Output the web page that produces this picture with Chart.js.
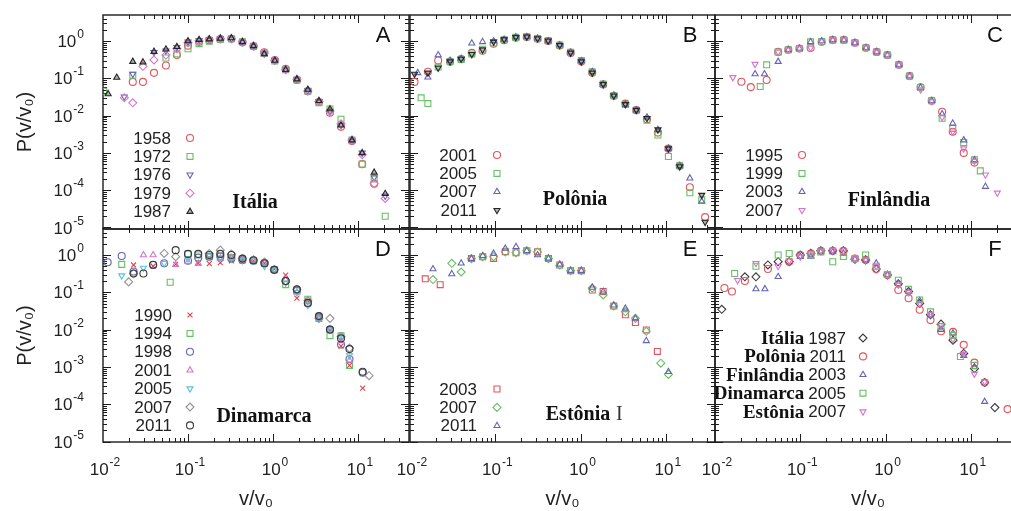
<!DOCTYPE html>
<html>
<head>
<meta charset="utf-8">
<script src="https://cdn.jsdelivr.net/npm/chart.js@4/dist/chart.umd.min.js"></script>
<style>
  html, body { margin: 0; padding: 0; background: #fff; overflow: hidden; }
  body { width: 1011px; height: 511px; position: relative; }
  canvas { position: absolute; }
</style>
</head>
<body>
<script>
// ---- data: v/v0 grids and P(v/v0) per year ----
const xTicks = [0.01, 0.1, 1, 10];
const yTicks = [1e-5, 1e-4, 1e-3, 1e-2, 1e-1, 1];

// A - Itália
const vA = [0.0102, 0.0115, 0.0145, 0.0178, 0.0224, 0.0295, 0.0398, 0.055, 0.074, 0.1, 0.135, 0.178, 0.24, 0.324, 0.437, 0.59, 0.79, 1.05, 1.41, 1.91, 2.57, 3.47, 4.68, 6.31, 8.5, 11.2, 15.5, 20.9];
const A1958 = [null, null, null, null, 0.08, 0.08, 0.14, 0.22, 0.42, 0.75, 0.95, 1.05, 1.12, 1.15, 0.92, 0.72, 0.5, 0.31, 0.18, 0.09, 0.045, 0.023, 0.012, 0.005, 0.0021, 0.0005, 0.00015, null];
const A1972 = [0.045, null, null, null, 0.12, null, null, 0.35, 0.45, 0.62, 0.85, 0.98, 1.1, 1.15, 0.95, 0.72, 0.47, 0.29, 0.17, 0.09, 0.045, 0.022, 0.015, 0.008, 0.0022, 0.0005, 0.0002, 0.00002];
const A1976 = [null, null, null, 0.032, 0.13, null, 0.5, 0.55, 0.68, 0.95, 1.05, 1.1, 1.15, 1.15, 0.93, 0.73, 0.46, 0.3, 0.17, 0.092, 0.047, 0.024, 0.013, 0.0055, 0.0021, 0.001, 0.00022, 0.00007];
const A1979 = [null, null, null, 0.03, 0.022, 0.21, 0.31, 0.42, 0.62, 0.9, 1.0, 1.1, 1.15, 1.15, 0.94, 0.73, 0.47, 0.3, 0.17, 0.094, 0.046, 0.024, 0.013, 0.006, 0.0022, 0.0009, 0.00015, 0.00006];
const A1987 = [null, 0.038, 0.105, null, 0.28, 0.27, 0.52, 0.6, 0.7, 1.0, 1.08, 1.12, 1.17, 1.2, 0.95, 0.74, 0.45, 0.3, 0.17, 0.095, 0.05, 0.025, 0.015, 0.0055, 0.0022, 0.001, 0.0003, 0.00008];

// B - Polônia
const vB = [0.0113, 0.0123, 0.0135, 0.0162, 0.0214, 0.0295, 0.0398, 0.053, 0.0708, 0.0955, 0.127, 0.174, 0.234, 0.313, 0.417, 0.569, 0.764, 1.02, 1.37, 1.84, 2.45, 3.35, 4.5, 6.0, 8.07, 10.7, 14.5, 19.1, 26.3, 28.8];
const B2001 = [0.08, null, null, 0.15, 0.3, 0.28, 0.33, 0.48, 0.55, 0.85, 1.05, 1.22, 1.28, 1.15, 1.0, 0.76, 0.48, 0.28, 0.14, 0.068, 0.034, 0.021, 0.014, 0.008, 0.0035, 0.0013, 0.00045, 0.00012, null, 0.000019];
const B2005 = [null, null, 0.03, 0.021, 0.2, 0.28, 0.32, 0.45, 0.6, 0.9, 1.08, 1.25, 1.3, 1.17, 1.02, 0.78, 0.5, 0.3, 0.15, 0.07, 0.034, 0.02, 0.014, 0.0075, 0.003, 0.0008, 0.00045, 0.000085, 0.000055, null];
const B2007 = [null, 0.14, null, 0.107, 0.42, 0.3, 0.34, 0.87, 0.95, 1.0, 1.1, 1.27, 1.3, 1.17, 1.0, 0.78, 0.5, 0.29, 0.15, 0.07, 0.035, 0.02, 0.014, 0.009, 0.0042, 0.0013, 0.00045, 0.00021, 0.00005, null];
const B2011 = [0.13, null, null, 0.14, 0.19, 0.28, 0.33, 0.44, 0.58, 0.95, 1.1, 1.26, 1.3, 1.17, 1.02, 0.77, 0.48, 0.28, 0.14, 0.069, 0.034, 0.02, 0.014, 0.0085, 0.0042, 0.0013, 0.00043, null, 0.000074, 0.000014];

// C - Finlândia
const vC = [0.0162, 0.0204, 0.0263, 0.0295, 0.0339, 0.038, 0.0403, 0.055, 0.0724, 0.0977, 0.132, 0.178, 0.24, 0.324, 0.437, 0.589, 0.785, 1.05, 1.43, 1.91, 2.57, 3.47, 4.6, 6.12, 8.24, 11.0, 12.9, 14.8, 20.4];
const C1995 = [null, 0.081, 0.058, null, null, null, 0.09, 0.51, 0.58, 0.63, 0.65, 0.95, 1.07, 1.07, 0.9, 0.66, 0.51, 0.42, 0.23, 0.115, 0.057, 0.025, 0.0127, 0.0037, 0.001, 0.00055, null, null, null];
const C1999 = [null, null, null, null, 0.06, null, 0.23, 0.51, 0.58, 0.63, 0.95, 0.97, 1.07, 1.07, 0.9, 0.66, 0.51, 0.42, 0.23, 0.115, 0.057, 0.025, 0.0085, 0.0045, 0.0019, 0.00065, 0.00033, null, null];
const C2003 = [null, null, null, 0.13, null, 0.13, null, 0.28, 0.58, 0.63, 0.95, 1.0, 1.07, 1.07, 0.9, 0.66, 0.51, 0.42, 0.23, 0.115, 0.057, 0.025, 0.011, 0.0062, 0.0022, 0.00065, null, 0.000125, null];
const C2007 = [0.106, null, null, 0.24, null, null, null, 0.51, 0.58, 0.63, 0.65, 0.97, 1.07, 1.07, 0.9, 0.66, 0.51, 0.42, 0.23, 0.115, 0.05, 0.024, 0.009, 0.0037, 0.0013, 0.0006, null, 0.00026, 0.000085];

// D - Dinamarca
const vD = [0.01135, 0.0166, 0.02, 0.0229, 0.0299, 0.0389, 0.0525, 0.0617, 0.0716, 0.1, 0.132, 0.178, 0.24, 0.324, 0.437, 0.589, 0.794, 1.035, 1.41, 1.91, 2.57, 3.47, 4.68, 6.31, 7.94, 11.35, 13.5];
const D1990 = [null, null, null, 0.54, null, 0.5, null, null, 0.56, null, 0.6, 0.59, 0.62, 0.7, 0.74, 0.7, 0.6, 0.42, 0.29, 0.07, 0.06, 0.023, 0.0095, 0.0036, 0.0011, 0.00027, null];
const D1994 = [null, 0.56, null, null, null, null, null, 0.186, null, 1.07, 1.0, 0.9, 0.91, 0.85, 0.74, 0.7, 0.6, 0.4, 0.16, 0.11, 0.065, 0.02, 0.0069, 0.0068, 0.0011, null, null];
const D1998 = [0.64, 0.94, null, 0.36, null, 0.54, 0.6, null, null, 0.7, 0.85, 0.9, 0.92, 0.8, 0.74, 0.7, 0.6, 0.4, 0.2, 0.11, 0.05, 0.022, 0.01, 0.004, 0.0016, 0.0007, null];
const D2001 = [null, null, null, null, 1.0, 1.0, null, null, 0.55, 0.66, 0.59, null, 0.8, 0.85, 0.74, 0.7, 0.6, 0.4, 0.22, 0.1, 0.055, 0.022, 0.01, 0.005, 0.0015, null, null];
const D2005 = [null, 0.28, null, null, 0.45, null, 0.6, null, null, 0.8, null, 0.95, 0.85, 0.85, 0.72, 0.7, 0.5, 0.4, 0.18, 0.1, 0.045, 0.02, 0.01, 0.006, 0.002, null, null];
const D2007 = [null, null, 0.19, 0.32, null, null, 1.1, null, 0.9, null, null, 1.1, 1.35, 1.07, 0.8, 0.75, 0.65, 0.41, 0.2, 0.12, 0.06, 0.02, 0.02, 0.0065, 0.0032, null, 0.00058];
const D2011 = [null, null, null, 0.32, 0.32, 0.55, null, null, 1.35, 1.07, 1.07, 1.0, 1.07, 1.0, 0.8, 0.72, 0.6, 0.4, 0.2, 0.12, 0.052, 0.023, 0.01, 0.0058, 0.003, 0.00074, null];

// E - Estônia
const vE = [0.0151, 0.0186, 0.0226, 0.0309, 0.0398, 0.0525, 0.0713, 0.0955, 0.131, 0.175, 0.234, 0.313, 0.42, 0.569, 0.764, 1.02, 1.37, 1.84, 2.45, 3.35, 4.39, 5.89, 7.94, 8.71, 10.7];
const E2003 = [0.23, null, 0.16, null, null, 0.81, 0.9, 0.81, 1.23, 1.15, 1.3, 1.23, 0.81, 0.54, 0.38, 0.38, 0.115, 0.105, 0.043, 0.025, 0.0155, 0.0098, 0.0026, null, null];
const E2007 = [null, 0.22, null, 0.6, 0.35, 0.8, 0.9, 0.9, 1.2, 1.15, 1.3, 1.2, 0.8, 0.53, 0.38, 0.38, 0.13, 0.085, 0.043, 0.03, 0.02, 0.009, null, 0.00126, 0.00063];
const E2011 = [null, 0.42, null, 0.31, 0.6, 0.8, 0.95, 1.1, 1.5, 1.66, 1.3, 1.0, 0.81, 0.56, 0.38, 0.38, 0.135, 0.105, 0.045, 0.037, 0.02, 0.005, null, null, 0.00074];

// F - comparação entre países
const vF = [0.012, 0.0129, 0.0158, 0.017, 0.0184, 0.0224, 0.0302, 0.0385, 0.0417, 0.055, 0.0741, 0.1, 0.133, 0.174, 0.24, 0.32, 0.437, 0.583, 0.776, 1.05, 1.41, 1.86, 2.51, 3.36, 4.47, 6.17, 7.53, 8.24, 11.0, 14.5, 19.1, 26.9];
const F_Italia1987 = [0.035, null, null, null, null, 0.26, 0.26, null, 0.54, 0.66, 0.66, 1.0, 1.11, 1.3, 1.3, 1.3, 0.77, 0.74, 0.42, 0.29, 0.17, 0.105, 0.05, 0.025, 0.014, 0.0052, null, 0.0023, 0.0009, 0.00038, 0.000081, null];
const F_Polonia2011 = [null, 0.13, 0.105, null, null, 0.2, null, null, 0.42, null, 0.66, 1.0, 1.1, 1.3, 1.3, 1.3, 0.8, 0.74, 0.42, 0.29, 0.115, 0.069, 0.034, 0.018, 0.009, 0.0087, null, 0.0039, 0.0013, 0.00038, null, 0.000074];
const F_Finlandia2003 = [null, null, null, null, null, null, 0.123, 0.123, null, 0.26, null, 0.9, 0.91, 1.2, 1.2, 1.1, 0.77, 0.74, 0.6, 0.29, 0.17, 0.105, 0.06, 0.025, 0.01, 0.008, null, 0.002, 0.001, 0.000117, null, null];
const F_Dinamarca2005 = [null, null, null, 0.32, null, null, 0.5, null, null, 1.0, 1.1, null, 1.0, 1.2, 0.66, 0.91, 0.8, 1.0, 0.5, 0.3, 0.21, 0.12, 0.062, 0.03, 0.012, 0.007, 0.0019, null, 0.0011, null, null, null];
const F_Estonia2007 = [null, null, null, null, 0.21, null, 0.6, null, null, 0.5, 0.7, 0.9, 1.1, 1.3, 1.35, 1.3, 0.8, 0.75, 0.5, 0.3, 0.16, 0.1, 0.05, 0.026, 0.013, 0.0055, null, 0.0022, 0.00065, 0.0004, null, null];

// ---- marker styles ----
const MK = {
  redCircle:    { c: '#e2545e', s: 'circle' },
  redSquare:    { c: '#e2545e', s: 'rect', r: 4.2 },
  redCross:     { c: '#e0404a', s: 'crossRot' },
  greenSquare:  { c: '#66c064', s: 'rect', r: 4.2 },
  greenDiamond: { c: '#66c064', s: 'rectRot', r: 4 },
  blueTri:      { c: '#6464b2', s: 'triangle' },
  blueDown:     { c: '#6464b2', s: 'triangle', rot: 180 },
  blueCircle:   { c: '#6464b2', s: 'circle' },
  pinkDiamond:  { c: '#d477c6', s: 'rectRot', r: 4 },
  pinkTri:      { c: '#d477c6', s: 'triangle' },
  pinkDown:     { c: '#d477c6', s: 'triangle', rot: 180 },
  cyanDown:     { c: '#58c4d4', s: 'triangle', rot: 180 },
  grayDiamond:  { c: '#949494', s: 'rectRot', r: 4 },
  blackTri:     { c: '#262626', s: 'triangle', fill: true },
  blackDown:    { c: '#262626', s: 'triangle', rot: 180, fill: true },
  darkHex:      { c: '#3a3a3a', s: 'circle' },
  darkDiamond:  { c: '#3a3a3a', s: 'rectRot', r: 4 }
};

// ---- grid geometry (page pixels) ----
const COL_LEFT = [103, 410, 715];
const COL_W = [306, 305, 306];
const COL_DEC = [85, 85.3, 85.3];
const ROW_TOP = [15, 229];
const ROW_H = [214, 213];
const ROW_Y0 = [41, 255];   // pixel of 10^0
const DEC_Y = 37.3;

const panels = [
  { col: 0, row: 0, letter: 'A', name: 'Itália', cx: 152, cy: 188, lx: 68, mx: 87, ly: 124, xs: vA,
    series: [['1958', A1958, 'redCircle'], ['1972', A1972, 'greenSquare'], ['1976', A1976, 'blueDown'], ['1979', A1979, 'pinkDiamond'], ['1987', A1987, 'blackTri']] },
  { col: 1, row: 0, letter: 'B', name: 'Polônia', cx: 165, cy: 185, lx: 67, mx: 87, ly: 141, xs: vB,
    series: [['2001', B2001, 'redCircle'], ['2005', B2005, 'greenSquare'], ['2007', B2007, 'blueTri'], ['2011', B2011, 'blackDown']] },
  { col: 2, row: 0, letter: 'C', name: 'Finlândia', cx: 174, cy: 186, lx: 68, mx: 87, ly: 141, xs: vC,
    series: [['1995', C1995, 'redCircle'], ['1999', C1999, 'greenSquare'], ['2003', C2003, 'blueTri'], ['2007', C2007, 'pinkDown']] },
  { col: 0, row: 1, letter: 'D', name: 'Dinamarca', cx: 161, cy: 188, lx: 69, mx: 87, ly: 87, xs: vD,
    series: [['1990', D1990, 'redCross'], ['1994', D1994, 'greenSquare'], ['1998', D1998, 'blueCircle'], ['2001', D2001, 'pinkTri'], ['2005', D2005, 'cyanDown'], ['2007', D2007, 'grayDiamond'], ['2011', D2011, 'darkHex']] },
  { col: 1, row: 1, letter: 'E', name: 'Estônia', extra: 'I', cx: 168, cy: 186, lx: 67, mx: 87, ly: 161, xs: vE,
    series: [['2003', E2003, 'redSquare'], ['2007', E2007, 'greenDiamond'], ['2011', E2011, 'blueTri']] },
  { col: 2, row: 1, letter: 'F', lx: 131, mx: 148, ly: 110, xs: vF,
    series: [['1987', F_Italia1987, 'darkDiamond', 'Itália'], ['2011', F_Polonia2011, 'redCircle', 'Polônia'], ['2003', F_Finlandia2003, 'blueTri', 'Finlândia'], ['2005', F_Dinamarca2005, 'greenSquare', 'Dinamarca'], ['2007', F_Estonia2007, 'pinkDown', 'Estônia']] }
];

const SANS = '"Liberation Sans", Arial, Helvetica, sans-serif';
const SERIF = '"Liberation Serif", "Times New Roman", serif';

// "10" with a raised exponent, like the gnuplot tick labels
function drawPow(ctx, v, x, baseY, align) {
  const e = String(Math.round(Math.log10(v)));
  ctx.font = '17px ' + SANS;
  const wb = ctx.measureText('10').width;
  ctx.font = '12px ' + SANS;
  const we = ctx.measureText(e).width;
  const total = wb + 1 + we;
  const x0 = align === 'right' ? x - total : x - total / 2;
  ctx.textAlign = 'left';
  ctx.textBaseline = 'alphabetic';
  ctx.font = '17px ' + SANS;
  ctx.fillText('10', x0, baseY);
  ctx.font = '12px ' + SANS;
  ctx.fillText(e, x0 + wb + 1, baseY - 9);
}

function drawMarker(ctx, st, x, y) {
  const opts = { pointStyle: st.s, radius: st.r || 3.5, rotation: st.rot || 0, borderWidth: 1.1 };
  ctx.save();
  ctx.strokeStyle = st.c;
  ctx.fillStyle = st.fill ? 'rgba(38,38,38,0.35)' : 'rgba(0,0,0,0)';
  ctx.lineWidth = 1.1;
  Chart.helpers.drawPoint(ctx, opts, x, y);
  ctx.restore();
}

function decor(p) {
  return {
    id: 'decor' + p.letter,
    beforeDatasetsDraw(chart) {
      const { ctx, chartArea: a, scales: { x, y } } = chart;
      ctx.save();
      ctx.strokeStyle = '#1c1c1c';
      ctx.lineWidth = 1;
      ctx.beginPath();
      for (let e = -6; e <= 2; e++) {
        for (let m = 1; m < 10; m++) {
          const v = m * Math.pow(10, e);
          const L = m === 1 ? 8 : 4;
          if (v > x.min && v < x.max) {
            const px = Math.round(x.getPixelForValue(v)) + 0.5;
            ctx.moveTo(px, a.bottom); ctx.lineTo(px, a.bottom - L);
            ctx.moveTo(px, a.top); ctx.lineTo(px, a.top + L);
          }
          if (v > y.min && v < y.max) {
            const py = Math.round(y.getPixelForValue(v)) + 0.5;
            ctx.moveTo(a.left, py); ctx.lineTo(a.left + L, py);
            ctx.moveTo(a.right, py); ctx.lineTo(a.right - L, py);
          }
        }
      }
      ctx.stroke();
      ctx.lineWidth = 1.4;
      ctx.strokeRect(a.left, a.top, a.right - a.left, a.bottom - a.top);
      ctx.restore();
    },
    afterDraw(chart) {
      const { ctx, chartArea: a, scales: { x, y } } = chart;
      ctx.save();
      ctx.fillStyle = '#222';
      if (p.col === 0) yTicks.forEach(v => drawPow(ctx, v, a.left - 19, y.getPixelForValue(v) + 6, 'right'));
      if (p.row === 1) xTicks.forEach(v => drawPow(ctx, v, x.getPixelForValue(v) + 2, a.bottom + 33, 'center'));

      ctx.fillStyle = '#111';
      ctx.textBaseline = 'middle';
      ctx.textAlign = 'center';
      ctx.font = '22px ' + SANS;
      ctx.fillText(p.letter, a.left + 280, a.top + 21);
      if (p.name) {
        ctx.font = 'bold 20px ' + SERIF;
        ctx.fillText(p.name, a.left + p.cx, a.top + p.cy);
        if (p.extra) {
          const w = ctx.measureText(p.name).width;
          ctx.font = '20px ' + SERIF;
          ctx.fillStyle = '#333';
          ctx.fillText(p.extra, a.left + p.cx + w / 2 + 9, a.top + p.cy);
          ctx.fillStyle = '#111';
        }
      }
      p.series.forEach((s, i) => {
        const yy = a.top + p.ly + i * 18.4;
        ctx.textAlign = 'right';
        ctx.font = '17px ' + SANS;
        ctx.fillStyle = '#222';
        ctx.fillText(s[0], a.left + p.lx, yy);
        if (s[3]) {
          const w = ctx.measureText(s[0]).width;
          ctx.font = 'bold 19px ' + SERIF;
          ctx.fillStyle = '#111';
          ctx.fillText(s[3], a.left + p.lx - w - 4, yy);
        }
        drawMarker(ctx, MK[s[2]], a.left + p.mx, yy - 1);
      });
      ctx.restore();
    }
  };
}

function build(p) {
  const yAxis = p.col === 0, xAxis = p.row === 1;
  const L = COL_LEFT[p.col], W = COL_W[p.col], T = ROW_TOP[p.row], H = ROW_H[p.row];
  const yW = yAxis ? L : 0, xH = xAxis ? 69 : 0;
  const padL = yAxis ? 0 : 40, padR = 30, padT = p.row === 0 ? 15 : 20, padB = xAxis ? 0 : 20;
  const cv = document.createElement('canvas');
  cv.width = padL + yW + W + padR;
  cv.height = padT + H + xH + padB;
  cv.style.left = (L - yW - padL) + 'px';
  cv.style.top = (T - padT) + 'px';
  document.body.appendChild(cv);

  const n = p.series.length;
  const datasets = p.series.map((s, i) => {
    const st = MK[s[2]];
    return {
      label: s[0],
      data: s[1].map((v, k) => v == null ? null : { x: p.xs[k], y: v }).filter(Boolean),
      pointStyle: st.s,
      pointRadius: st.r || 3.5,
      pointRotation: st.rot || 0,
      pointBorderColor: st.c,
      pointBackgroundColor: st.fill ? 'rgba(38,38,38,0.35)' : 'rgba(0,0,0,0)',
      pointBorderWidth: 1.1,
      showLine: false,
      order: n - i
    };
  });

  const dec = COL_DEC[p.col], y0 = ROW_Y0[p.row];
  new Chart(cv, {
    type: 'scatter',
    data: { datasets },
    options: {
      responsive: false,
      animation: false,
      events: [],
      layout: { padding: { left: padL, right: padR, top: padT, bottom: padB } },
      plugins: { legend: { display: false }, tooltip: { enabled: false } },
      scales: {
        x: {
          type: 'logarithmic',
          min: 0.01,
          max: Math.pow(10, -2 + W / dec),
          display: xAxis,
          afterBuildTicks: s => { s.ticks = xTicks.map(v => ({ value: v })); },
          afterFit: s => { s.height = xH; s.paddingLeft = 0; s.paddingRight = 0; },
          grid: { display: false, drawTicks: false },
          border: { display: false },
          ticks: { display: false },
          title: { display: true, text: 'v/v₀', color: '#222', font: { family: SANS, size: 20 }, padding: { top: 1, bottom: 0 } }
        },
        y: {
          type: 'logarithmic',
          min: Math.pow(10, -(T + H - y0) / DEC_Y),
          max: Math.pow(10, (y0 - T) / DEC_Y),
          display: yAxis,
          afterBuildTicks: s => { s.ticks = yTicks.map(v => ({ value: v })); },
          afterFit: s => { s.width = yW; s.paddingTop = 0; s.paddingBottom = 0; },
          grid: { display: false, drawTicks: false },
          border: { display: false },
          ticks: { display: false },
          title: { display: true, text: 'P(v/v₀)', color: '#222', font: { family: SANS, size: 20 }, padding: { top: 13, bottom: 0 } }
        }
      }
    },
    plugins: [decor(p)]
  });
}

panels.forEach(build);
</script>
</body>
</html>
